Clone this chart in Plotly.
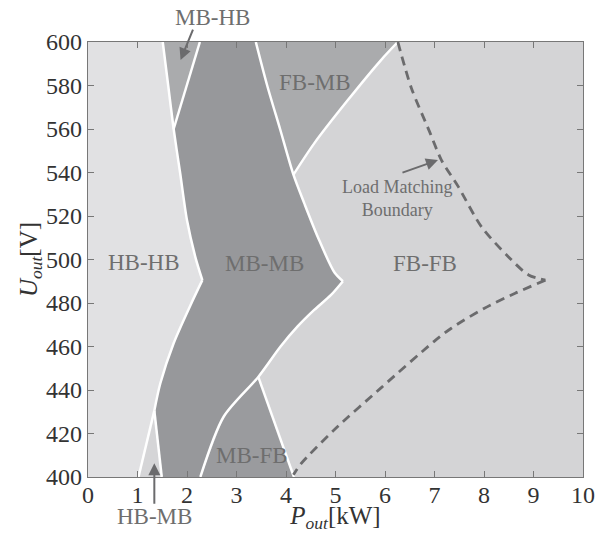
import plotly.graph_objects as go

# ---- boundary curves (P in kW, U in V) ----
# HB-HB / MB boundary, upper branch (top -> apex)
hb_upper_P = [1.51, 1.62, 1.73, 1.86, 2.00, 2.17, 2.31]
hb_upper_U = [600, 580, 560, 540, 518, 501, 490.5]
# HB / MB boundary, lower branch (apex -> junction)
hb_lower_P = [2.31, 2.07, 1.73, 1.46, 1.34]
hb_lower_U = [490.5, 479, 461.5, 443, 430.5]
# HB-HB / HB-MB boundary
hbmb_left_P = [1.34, 1.02]
hbmb_left_U = [430.5, 400]
# HB-MB / MB-MB boundary
hbmb_right_P = [1.34, 1.49]
hbmb_right_U = [430.5, 400]
# MB-HB / MB-MB boundary
mbhb_P = [1.73, 2.26]
mbhb_U = [560, 600]
# MB-MB / FB boundary, upper branch (top -> apex)
mb_upper_P = [3.39, 3.62, 3.88, 4.15, 4.37, 4.64, 4.98, 5.15]
mb_upper_U = [600, 580, 560, 539, 525.8, 510.5, 494, 490]
# MB-MB / FB boundary, lower branch (apex -> bottom)
mb_lower_P = [5.15, 4.91, 4.57, 4.23, 3.89, 3.44, 2.74, 2.27]
mb_lower_U = [490, 483.7, 476.8, 469.1, 460, 446, 427.7, 400]
# MB-FB / FB-FB boundary
mbfb_P = [3.44, 4.16]
mbfb_U = [446, 400]
# FB-MB / FB-FB boundary
fbmb_P = [4.15, 4.57, 5.25, 5.92, 6.26]
fbmb_U = [539, 553.4, 573.3, 591.7, 600]
# Load matching boundary (dashed), upper and lower branches
lm_upper_P = [6.26, 6.53, 6.90, 7.14, 7.48, 7.95, 8.49, 8.90, 9.24]
lm_upper_U = [600, 579, 558.8, 545.7, 533.5, 515, 501.3, 492.9, 490.5]
lm_lower_P = [9.24, 8.63, 8.00, 7.34, 7.00, 5.92, 4.97, 4.30, 4.15]
lm_lower_U = [490.5, 484.5, 477.5, 468.4, 462.5, 441, 421.6, 406, 401]

x_ticks = list(range(0, 11))
y_ticks = list(range(400, 601, 20))
x_range = [0, 10]
y_range = [400, 600]

C_HBHB = "#e1e1e3"
C_FBFB = "#d4d4d6"
C_MBHB = "#aaabad"
C_FBMB = "#aaabad"
C_MBMB = "#97989b"
C_MBFB = "#9a9b9e"
C_HBMB = "#d5d5d7"
LABEL = "#6e6e6e"
FONT = "Liberation Serif"

fig = go.Figure()


def poly(P, U, color):
    fig.add_trace(go.Scatter(x=P, y=U, mode="lines", fill="toself",
                             fillcolor=color, line=dict(width=0),
                             hoverinfo="skip", showlegend=False))


def rev(a):
    return list(reversed(a))


# HB-HB
poly([x_range[0]] + hb_upper_P + hb_lower_P[1:] + hbmb_left_P[1:] + [x_range[0]],
     [y_range[1]] + hb_upper_U + hb_lower_U[1:] + hbmb_left_U[1:] + [y_range[0]],
     C_HBHB)
# MB-HB
poly(hb_upper_P[:3] + rev(mbhb_P)[:1],
     hb_upper_U[:3] + rev(mbhb_U)[:1], C_MBHB)
# MB-MB
mm_P = rev(mbhb_P) + hb_upper_P[3:] + hb_lower_P[1:] + hbmb_right_P[1:] \
    + rev(mb_lower_P) + rev(mb_upper_P)[1:]
mm_U = rev(mbhb_U) + hb_upper_U[3:] + hb_lower_U[1:] + hbmb_right_U[1:] \
    + rev(mb_lower_U) + rev(mb_upper_U)[1:]
poly(mm_P, mm_U, C_MBMB)
# FB-MB
poly(mb_upper_P[:4] + fbmb_P[1:], mb_upper_U[:4] + fbmb_U[1:], C_FBMB)
# MB-FB
poly(rev(mb_lower_P)[:3] + mbfb_P[1:], rev(mb_lower_U)[:3] + mbfb_U[1:], C_MBFB)
# HB-MB
poly(hbmb_left_P + rev(hbmb_right_P), hbmb_left_U + rev(hbmb_right_U), C_HBMB)

# white boundaries (smoothed curves)
for P, U in [(hb_upper_P, hb_upper_U), (hb_lower_P, hb_lower_U),
             (hbmb_left_P, hbmb_left_U), (hbmb_right_P, hbmb_right_U),
             (mbhb_P, mbhb_U), (mb_upper_P, mb_upper_U),
             (mb_lower_P, mb_lower_U), (mbfb_P, mbfb_U), (fbmb_P, fbmb_U)]:
    fig.add_trace(go.Scatter(x=P, y=U, mode="lines",
                             line=dict(color="white", width=2.5,
                                       shape="spline", smoothing=0.8),
                             hoverinfo="skip", showlegend=False))

# dashed load matching boundary
for P, U in [(lm_upper_P, lm_upper_U), (lm_lower_P, lm_lower_U)]:
    fig.add_trace(go.Scatter(x=P, y=U, mode="lines",
                             line=dict(color="#6b6b6d", width=2.8,
                                       dash="9px,6px", shape="spline",
                                       smoothing=0.8),
                             hoverinfo="skip", showlegend=False))

# region labels
labels = [
    ("HB-HB", 1.14, 498.4), ("MB-MB", 3.57, 498.2), ("FB-FB", 6.80, 498.2),
    ("FB-MB", 4.58, 581.6), ("MB-FB", 3.32, 410.1),
]
for t, x, y in labels:
    fig.add_annotation(x=x, y=y, text=t, showarrow=False,
                       xanchor="center", yanchor="middle",
                       font=dict(family=FONT, size=23, color=LABEL))
fig.add_annotation(x=6.24, y=528, text="Load Matching<br>Boundary",
                   showarrow=False, xanchor="center", yanchor="middle",
                   font=dict(family=FONT, size=18, color=LABEL))
fig.add_annotation(x=2.52, y=1.057, xref="x", yref="paper", text="MB-HB",
                   showarrow=False, xanchor="center", yanchor="middle",
                   font=dict(family=FONT, size=23, color=LABEL))
fig.add_annotation(x=1.35, y=-0.091, xref="x", yref="paper", text="HB-MB",
                   showarrow=False, xanchor="center", yanchor="middle",
                   font=dict(family=FONT, size=23, color=LABEL))

# arrows
for x, y, ax, ay in [(1.87, 591.7, 13, -32), (7.07, 545.7, -37, 13),
                     (1.34, 406.3, 0, 42)]:
    fig.add_annotation(x=x, y=y, ax=ax, ay=ay, text="", showarrow=True,
                       arrowhead=2, arrowsize=1.2, arrowwidth=2,
                       arrowcolor="#6b6b6d")

axis_common = dict(showgrid=False, zeroline=False, ticks="inside",
                   ticklen=6, tickwidth=1, tickcolor="#777777",
                   showline=True, linecolor="#777777", linewidth=1.2,
                   mirror="ticks", automargin=False,
                   tickfont=dict(family=FONT, size=24, color="#333333"))

fig.update_layout(
    width=603, height=533,
    margin=dict(l=88, r=20, t=42, b=56),
    paper_bgcolor="white", plot_bgcolor=C_FBFB,
    xaxis=dict(range=x_range, tickvals=x_ticks, **axis_common,
               ticklabelstandoff=-4,
               title=dict(text="<i>P</i><sub><i>out</i></sub>[kW]",
                          font=dict(family=FONT, size=25, color="#333333"),
                          standoff=4)),
    yaxis=dict(range=y_range, tickvals=y_ticks, **axis_common,
               title=dict(text="<i>U</i><sub><i>out</i></sub>[V]",
                          font=dict(family=FONT, size=25, color="#333333"),
                          standoff=0)),
)

fig.write_html("out.html")
